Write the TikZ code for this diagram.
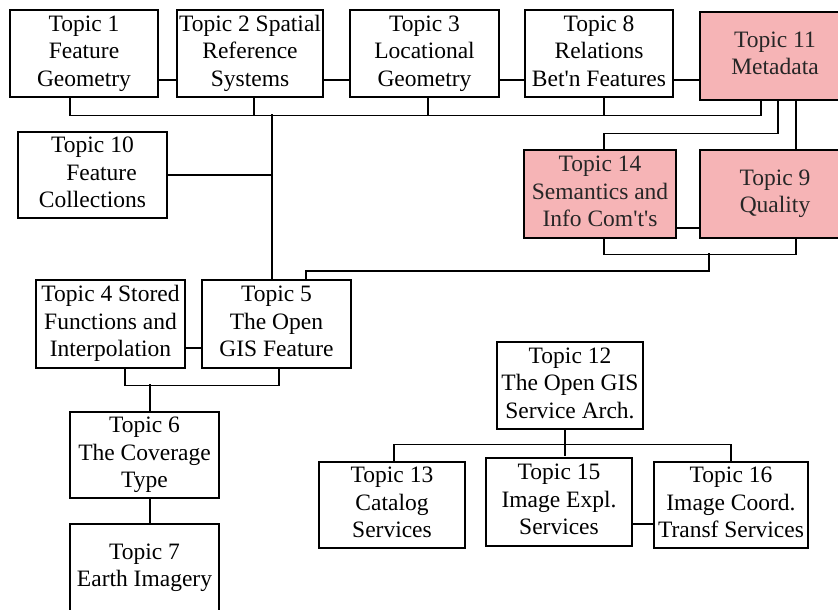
\documentclass[tikz,border=0pt]{standalone}
\usepackage{fontspec}
\setmainfont{Liberation Serif}
\newfontfamily\boxfont{Liberation Serif}
\definecolor{hatchpink}{RGB}{246,180,182}
\tikzset{
  box/.style={draw=black, line width=1.2pt, fill=white, inner sep=0pt, align=center,
    font=\boxfont\fontsize{23.5}{27.5}\selectfont,
    execute at begin node={\rule{0pt}{20pt}},
    execute at end node={\rule[-5.5pt]{0pt}{5.5pt}}},
  redbox/.style={box, line width=2.6pt, fill=hatchpink, text=black!85},
  conn/.style={draw=black, line width=1.2pt},
}
\begin{document}
\begin{tikzpicture}[x=1pt, y=-1pt]
\useasboundingbox (0,0) rectangle (838,610);
\clip (0,0) rectangle (838,610);
\fill[white] (0,0) rectangle (838,610);
% top row
\node[box, minimum width=148, minimum height=87] (t1) at (84,53.5) {Topic 1\\Feature\\Geometry};
\node[box, minimum width=146, minimum height=87] (t2) at (250,53.5) {Topic 2 Spatial\\Reference\\Systems};
\node[box, minimum width=149, minimum height=87] (t3) at (424.5,53.5) {Topic 3\\Locational\\Geometry};
\node[box, minimum width=148, minimum height=87] (t8) at (599,53.5) {Topic 8\\Relations\\Bet'n Features};
\node[redbox, minimum width=150, minimum height=88] (t11) at (775,56) {Topic 11\\Metadata};
% second level
\node[box, minimum width=149, minimum height=86] (t10) at (92.5,175) {Topic 10\\\hspace*{18pt}Feature\\Collections};
\node[redbox, minimum width=152, minimum height=88] (t14) at (600,194) {Topic 14\\Semantics and\\Info Com't's};
\node[redbox, minimum width=150, minimum height=88] (t9) at (775,194) {Topic 9\\Quality};
% feature group
\node[box, minimum width=149, minimum height=88] (t4) at (110.5,324) {Topic 4 Stored\\Functions and\\Interpolation};
\node[box, minimum width=149, minimum height=88] (t5) at (276.5,324) {Topic 5\\The Open\\GIS Feature};
\node[box, minimum width=149, minimum height=86] (t6) at (144.5,455) {Topic 6\\The Coverage\\Type};
\node[box, minimum width=149, minimum height=88] (t7) at (144.5,568) {Topic 7\\Earth Imagery};
% services group
\node[box, minimum width=146, minimum height=87] (t12) at (570,385.5) {Topic 12\\The Open GIS\\Service Arch.};
\node[box, minimum width=146, minimum height=86] (t13) at (392,505) {Topic 13\\Catalog\\Services};
\node[box, minimum width=146, minimum height=88] (t15) at (559,502) {Topic 15\\Image Expl.\\Services};
\node[box, minimum width=154, minimum height=86] (t16) at (731,505) {Topic 16\\Image Coord.\\Transf Services};

% top row side links
\draw[conn] ([yshift=-26.5pt]t1.east) -- ([yshift=-26.5pt]t2.west);
\draw[conn] ([yshift=-26.5pt]t2.east) -- ([yshift=-26.5pt]t3.west);
\draw[conn] ([yshift=-26.5pt]t3.east) -- ([yshift=-26.5pt]t8.west);
\draw[conn] ([yshift=-26.5pt]t8.east) -- ([yshift=-24pt]t11.west);
% top bus
\draw[conn] ([xshift=-14pt]t1.south) -- ++(0,18) -| ([xshift=-14pt]t11.south);
\draw[conn] ([xshift=4pt]t2.south) -- ++(0,18);
\draw[conn] ([xshift=3.5pt]t3.south) -- ++(0,18);
\draw[conn] ([xshift=5pt]t8.south) -- ++(0,18);
% trunk to topic 5
\draw[conn] ([xshift=-4.5pt]t5.north) -- ++(0,-165);
\draw[conn] (t10.east) -- ++(105,0);
% metadata links
\draw[conn] ([xshift=3pt]t11.south) -- ++(0,32) -| ([xshift=4pt]t14.north);
\draw[conn] ([xshift=21pt]t11.south) -- ([xshift=21pt]t9.north);
\draw[conn] ([yshift=-34pt]t14.east) -- ([yshift=-34pt]t9.west);
\draw[conn] ([xshift=4pt]t14.south) -- ++(0,15) -| ([xshift=21pt]t9.south);
\coordinate (qj) at (709,253);
\draw[conn] (qj) -- ++(0,18) -| ([xshift=29.5pt]t5.north);
% feature group links
\draw[conn] ([yshift=-24pt]t4.east) -- ([yshift=-24pt]t5.west);
\draw[conn] ([xshift=14.5pt]t4.south) -- ++(0,17) -| ([xshift=2.5pt]t5.south);
\draw[conn] ([xshift=5.5pt]t6.north) -- ++(0,-27);
\draw[conn] ([xshift=5.5pt]t6.south) -- ([xshift=5.5pt]t7.north);
% services links
\draw[conn] ([xshift=-5pt]t12.south) -- ++(0,26);
\draw[conn] ([xshift=2pt]t13.north) -- ++(0,-17) -| (t16.north);
\draw[conn] ([yshift=-22pt]t15.east) -- ++(22,0);
\end{tikzpicture}
\end{document}
